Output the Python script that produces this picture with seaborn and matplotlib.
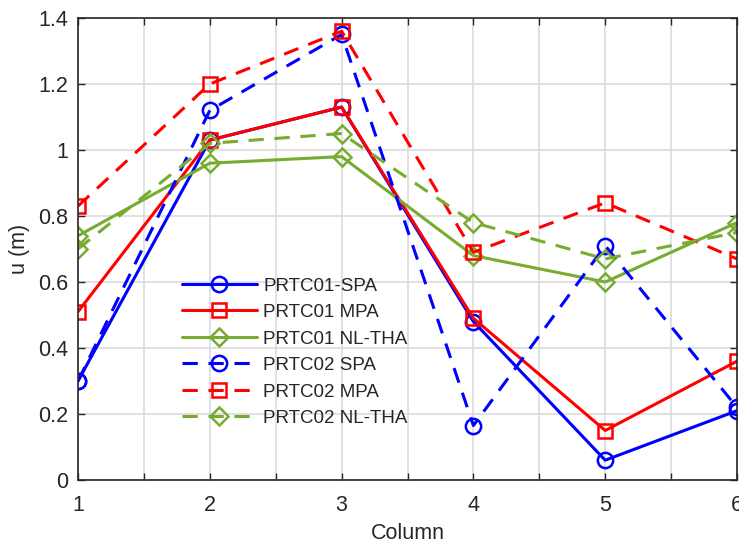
import matplotlib
matplotlib.use("Agg")
import matplotlib.pyplot as plt
import seaborn as sns
import pandas as pd

columns = [1, 2, 3, 4, 5, 6]
prtc01_spa = [0.30, 1.03, 1.13, 0.48, 0.06, 0.21]
prtc01_mpa = [0.51, 1.03, 1.13, 0.49, 0.15, 0.36]
prtc01_nltha = [0.74, 0.96, 0.98, 0.68, 0.60, 0.78]
prtc02_spa = [0.30, 1.12, 1.35, 0.165, 0.71, 0.22]
prtc02_mpa = [0.83, 1.20, 1.36, 0.69, 0.84, 0.67]
prtc02_nltha = [0.70, 1.02, 1.05, 0.78, 0.67, 0.75]

labels = ["PRTC01-SPA", "PRTC01 MPA", "PRTC01 NL-THA",
          "PRTC02 SPA", "PRTC02 MPA", "PRTC02 NL-THA"]
series = [prtc01_spa, prtc01_mpa, prtc01_nltha, prtc02_spa, prtc02_mpa, prtc02_nltha]
colors = ["#0000FF", "#FF0000", "#77AC30", "#0000FF", "#FF0000", "#77AC30"]
markers = ["o", "s", "D", "o", "s", "D"]
styles = ["-", "-", "-", "--", "--", "--"]

sns.set_style("ticks")
plt.rcParams['font.family'] = ['Liberation Sans', 'DejaVu Sans']

fig = plt.figure(figsize=(7.39, 5.45), dpi=100)
ax = fig.add_axes([78/739, 1-480/545, (737-78)/739, (480-18)/545])

msizes = {"o": 11, "s": 10, "D": 9.5}
for lab, vals, c, m, ls in zip(labels, series, colors, markers, styles):
    df = pd.DataFrame({"Column": columns, "u": vals})
    sns.lineplot(data=df, x="Column", y="u", ax=ax, color=c, marker=m,
                 linestyle=ls, linewidth=2.2, markersize=msizes[m],
                 markerfacecolor="none", markeredgecolor=c, markeredgewidth=1.8,
                 label=lab, dashes=False)
    if ls == "--":
        ax.lines[-1].set_dashes((5, 3.5))

ax.set_xlim(1, 6)
ax.set_ylim(0, 1.4)
xt = [1, 1.5, 2, 2.5, 3, 3.5, 4, 4.5, 5, 5.5, 6]
ax.set_xticks(xt)
ax.set_xticklabels([str(int(v)) if float(v).is_integer() else "" for v in xt])
yt = [0, 0.2, 0.4, 0.6, 0.8, 1.0, 1.2, 1.4]
ax.set_yticks(yt)
ax.set_yticklabels(["0", "0.2", "0.4", "0.6", "0.8", "1", "1.2", "1.4"])
ax.grid(True, color="#DCDCDC", linewidth=1.2)
ax.set_axisbelow(True)
ax.tick_params(direction="in", top=True, right=True, length=5, width=1,
               labelsize=15.5, colors="#262626")
ax.tick_params(axis="x", pad=11)
ax.tick_params(axis="y", pad=7)
for s in ax.spines.values():
    s.set_color("#262626")
    s.set_linewidth(1.2)
ax.set_xlabel("Column", fontsize=15.5, color="#262626", labelpad=5)
ax.set_ylabel("u (m)", fontsize=15.5, color="#262626", labelpad=6)

leg = ax.legend(loc="upper left", bbox_to_anchor=(0.132, 0.475), frameon=False,
                fontsize=13.5, handlelength=4.0, labelspacing=0.5, handletextpad=0.35)

fig.savefig("out.png", dpi=100)
